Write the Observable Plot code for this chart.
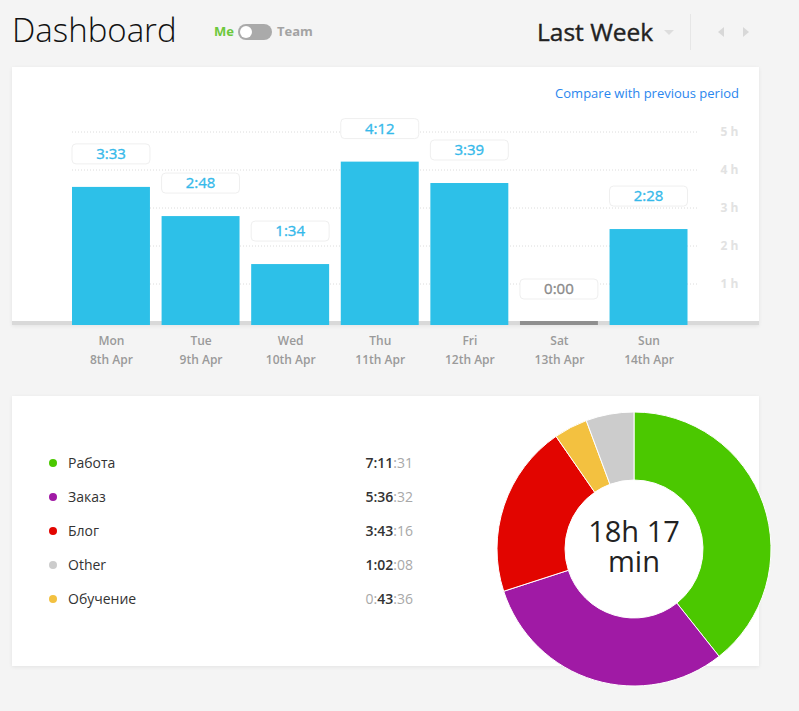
<!DOCTYPE html>
<html lang="en"><head><meta charset="utf-8"><title>Dashboard</title>
<script src="https://cdn.jsdelivr.net/npm/d3@7"></script>
<script src="https://cdn.jsdelivr.net/npm/@observablehq/plot@0.6"></script>
<style>
html,body{margin:0;padding:0;background:#f4f4f4;font-family:"Open Sans",sans-serif;}
#page{position:relative;width:799px;height:711px;overflow:hidden;background:#f4f4f4;}
#page>*{position:absolute;}
#page svg{position:absolute;left:0;top:0;}
.card{left:12px;width:747px;background:#fff;box-shadow:0 1px 4px rgba(0,0,0,.07);box-sizing:border-box;}
#title{left:12px;top:8px;font-size:33px;font-weight:300;color:#111;line-height:44px;white-space:nowrap;}
#me{left:214px;top:22px;font-size:13px;font-weight:700;color:#6cc83c;line-height:18px;}
#team{left:277px;top:22px;font-size:13px;font-weight:700;color:#a3a3a3;line-height:18px;}
#toggle{left:238px;top:24px;width:34px;height:16px;border-radius:8px;background:#aaa;}
#knob{left:240px;top:26px;width:12px;height:12px;border-radius:50%;background:#fff;}
#period{left:537px;top:15px;font-size:24.5px;font-weight:400;-webkit-text-stroke:.4px #222;color:#222;line-height:34px;white-space:nowrap;}
#caret{left:664px;top:30px;border-left:5px solid transparent;border-right:5px solid transparent;border-top:5px solid #ddd;}
#divider{left:690px;top:14px;width:1px;height:36px;background:#e6e6e6;}
#prev{left:718px;top:27px;border-top:5px solid transparent;border-bottom:5px solid transparent;border-right:6px solid #d8d8d8;}
#next{left:743px;top:27px;border-top:5px solid transparent;border-bottom:5px solid transparent;border-left:6px solid #d8d8d8;}
#compare{right:60px;top:84px;font-size:13px;color:#2a86ee;line-height:18px;white-space:nowrap;}
.dot{width:8px;height:8px;border-radius:50%;left:49px;}
.lname{left:68px;font-size:14px;color:#333;line-height:20px;}
.ltime{right:386px;font-size:14px;color:#a8a8a8;line-height:20px;white-space:nowrap;}
.ltime b{color:#333;font-weight:600;}
</style></head><body>
<div id="page">
  <div class="card" style="top:67px;height:258px;border-bottom:4px solid #d9d9d9"></div>
  <div class="card" style="top:396px;height:270px"></div>
  <div id="title">Dashboard</div>
  <div id="me">Me</div><div id="toggle"></div><div id="knob"></div><div id="team">Team</div>
  <div id="period">Last Week</div><div id="caret"></div><div id="divider"></div><div id="prev"></div><div id="next"></div>
  <div id="compare">Compare with previous period</div>
</div>
<script>
const days = ["Mon","Tue","Wed","Thu","Fri","Sat","Sun"];
const dates = ["8th Apr","9th Apr","10th Apr","11th Apr","12th Apr","13th Apr","14th Apr"];
const durations = ["3:33","2:48","1:34","4:12","3:39","0:00","2:28"];
const minutes = [213,168,94,252,219,0,148];
const gridHours = [1,2,3,4,5];

const categories = ["Работа","Заказ","Блог","Other","Обучение"];
const catTimes = ["7:11:31","5:36:32","3:43:16","1:02:08","0:43:36"];
const catColors = ["#4bc800","#a01aa5","#e20500","#cccccc","#f3c140"];
const donutOrder = ["Работа","Заказ","Блог","Обучение","Other"];
const totalLabel = "18h 17\nmin";

const page = document.getElementById("page");
const days2 = days.map((d,i)=>({day:d,date:dates[i],label:durations[i],h:minutes[i]/60}));
const active = days2.filter(d=>d.h>0), empty = days2.filter(d=>d.h===0);
const boxH = 20/38.9;
const font = '"Open Sans",sans-serif';

// grid and hour axis
page.appendChild(Plot.plot({
  width:799,height:380,marginLeft:72,marginRight:100,marginTop:0,marginBottom:0,
  style:{background:"none",fontFamily:font},
  x:{axis:null},
  y:{domain:[0,5],range:[321.5,131.5],axis:null},
  marks:[
    Plot.ruleY(gridHours,{stroke:"#dcdcdc",strokeWidth:1,strokeDasharray:"1 2"}),
    Plot.axisY(gridHours,{anchor:"right",tickSize:0,tickPadding:21,tickFormat:d=>d+" h",fontSize:12,fontWeight:700,fill:"#e2e2e2",label:null})
  ]
}));

// bars and labels
const boxMark = (data,dy)=>Plot.barY(data,{x:"day",y1:"h",y2:d=>d.h+boxH,dy,fill:"#fff",stroke:"#efefef",rx:4});
page.appendChild(Plot.plot({
  width:799,height:380,marginLeft:72,marginRight:111.5,marginTop:0,marginBottom:55,
  style:{background:"none",fontFamily:font},
  x:{domain:days,range:[72,687.5],paddingInner:.13,paddingOuter:0,round:false},
  y:{domain:[0,5],range:[325,130.5],axis:null},
  marks:[
    Plot.barY(active,{x:"day",y:"h",fill:"#2dc0e8"}),
    Plot.barY(empty,{x:"day",y:"h",fill:"#8f8f8f",insetTop:-4}),
    boxMark(active,-23),
    boxMark(empty,-26),
    Plot.text(active,{x:"day",y:"h",text:"label",dy:-33,fill:"#36b9ea",stroke:"#36b9ea",strokeWidth:.35,fontSize:15,dx:-.5}),
    Plot.text(empty,{x:"day",y:"h",text:"label",dy:-36,fill:"#8a8a8a",stroke:"#8a8a8a",strokeWidth:.35,fontSize:15,dx:-.5}),
    Plot.axisX({anchor:"bottom",tickSize:0,tickPadding:6,label:null,fontSize:12,fontWeight:600,fill:"#9a9a9a",lineHeight:1.58,
      tickFormat:d=>d+"\n"+dates[days.indexOf(d)]})
  ]
}));

// legend
categories.forEach((name,i)=>{
  const y = 463+i*34;
  const dot = document.createElement("div");
  dot.className="dot"; dot.style.top=(y-4)+"px"; dot.style.background=catColors[i]; page.appendChild(dot);
  const n = document.createElement("div");
  n.className="lname"; n.style.top=(y-10)+"px"; n.textContent=name; page.appendChild(n);
  const [hh,mm,ss] = catTimes[i].split(":");
  const t = document.createElement("div");
  t.className="ltime"; t.style.top=(y-10)+"px";
  const b = s=>{const e=document.createElement("b");e.textContent=s;return e;};
  if(hh==="0"){t.append("0:",b(mm),":"+ss);} else {t.append(b(hh+":"+mm),":"+ss);}
  page.appendChild(t);
});

// donut
const secs = t=>{const [h,m,s]=t.split(":").map(Number);return h*3600+m*60+s;};
const slices = donutOrder.map(n=>{const i=categories.indexOf(n);return {name:n,value:secs(catTimes[i]),color:catColors[i]};});
const donut = Plot.plot({
  width:280,height:280,margin:0,
  style:{background:"none",fontFamily:font,overflow:"visible"},
  x:{axis:null},y:{axis:null},
  marks:[
    (index,scales,values,dim)=>{
      const arcs = d3.pie().sort(null).value(d=>d.value)(slices);
      const arc = d3.arc().innerRadius(69).outerRadius(137);
      const g = d3.create("svg:g").attr("transform",`translate(${dim.width/2},${dim.height/2})`);
      g.selectAll("path").data(arcs).join("path")
        .attr("d",arc).attr("fill",d=>d.data.color).attr("stroke","#fff").attr("stroke-width",1);
      return g.node();
    },
    Plot.text([totalLabel],{frameAnchor:"middle",dy:-2,dx:-.5,fontSize:29,fill:"#222",lineHeight:1.03,fontWeight:400})
  ]
});
donut.style.left="494px"; donut.style.top="409px";
page.appendChild(donut);
</script>
</body></html>
